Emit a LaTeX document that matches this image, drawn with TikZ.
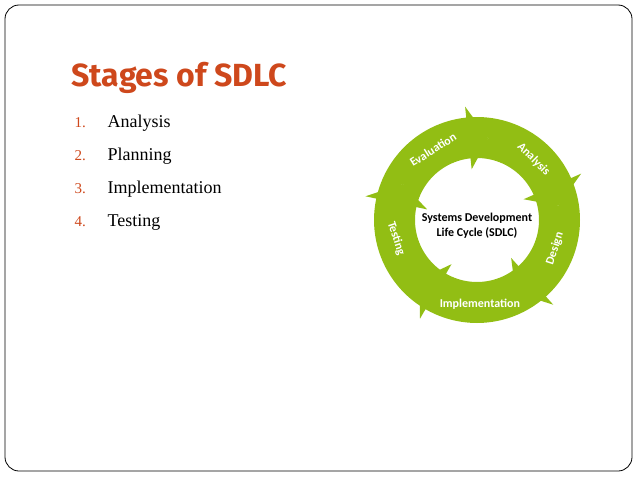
\documentclass[tikz,border=0pt]{standalone}
\usepackage{fontspec}
\setmainfont{Liberation Serif}
\newfontfamily\carlitofont{Carlito}
\newfontfamily\titlefont{Fira Sans}
\definecolor{ring}{RGB}{146,190,20}
\definecolor{ttlc}{RGB}{206,72,28}
\begin{document}
\begin{tikzpicture}[x=1pt,y=-1pt,
  lbl/.style={text=white,font=\carlitofont\bfseries\fontsize{12}{14}\selectfont},
  item/.style={anchor=base west,font=\fontsize{18}{21}\selectfont},
  num/.style={anchor=base west,text=ttlc,font=\fontsize{15}{18}\selectfont}]
\useasboundingbox (0,0) rectangle (638,479);
\draw[rounded corners=14pt,line width=0.8pt] (5,5) rectangle (632,471);
\node[anchor=base west,text=ttlc,font=\titlefont\bfseries\fontsize{32}{36}\selectfont] (title) at (68,86) {Stages of SDLC};
\foreach \n/\t [count=\i] in {1./Analysis,2./Planning,3./Implementation,4./Testing}{
  \node[num] (n\i) at (71,{127+33*(\i-1)}) {\n};
  \node[item] (t\i) at (104,{127+33*(\i-1)}) {\t};
}
\def\cx{477}\def\cy{220}\def\R{103}\def\r{62}
\foreach \tip in {82,10,-62,-134,154}{
  \pgfmathsetmacro\hb{\tip+14}
  \pgfmathsetmacro\tl{\tip+86}
  \pgfmathsetmacro\tn{\tip+72}
  \fill[ring] plot[domain=\tl:\hb,samples=25] ({\cx+\R*cos(\x)},{\cy-\R*sin(\x)})
    -- ({\cx+(\R+11)*cos(\hb)},{\cy-(\R+11)*sin(\hb)})
    -- ({\cx+(\R+\r)/2*cos(\tip)},{\cy-(\R+\r)/2*sin(\tip)})
    -- ({\cx+(\r-11)*cos(\hb)},{\cy-(\r-11)*sin(\hb)})
    -- plot[domain=\hb:\tl,samples=25] ({\cx+\r*cos(\x)},{\cy-\r*sin(\x)})
    -- ({\cx+(\R+\r)/2*cos(\tn)},{\cy-(\R+\r)/2*sin(\tn)}) -- cycle;
}
\node[lbl,rotate=32] (ev) at ({\cx+83*cos(122)},{\cy-83*sin(122)}) {Evaluation};
\node[lbl,rotate=-45] (an) at ({\cx+83*cos(47)},{\cy-83*sin(47)}) {Analysis};
\node[lbl,rotate=72] (de) at ({\cx+83*cos(-20)},{\cy-83*sin(-20)}) {Design};
\node[lbl] (im) at ({\cx+84*cos(-88)},{\cy-84*sin(-88)}) {Implementation};
\node[lbl,rotate=-72] (te) at ({\cx+83*cos(193)},{\cy-83*sin(193)}) {Testing};
\node[font=\carlitofont\bfseries\fontsize{12}{15}\selectfont,align=center] (c) at (\cx,{\cy+6}) {Systems Development\\Life Cycle (SDLC)};
\end{tikzpicture}
\end{document}
